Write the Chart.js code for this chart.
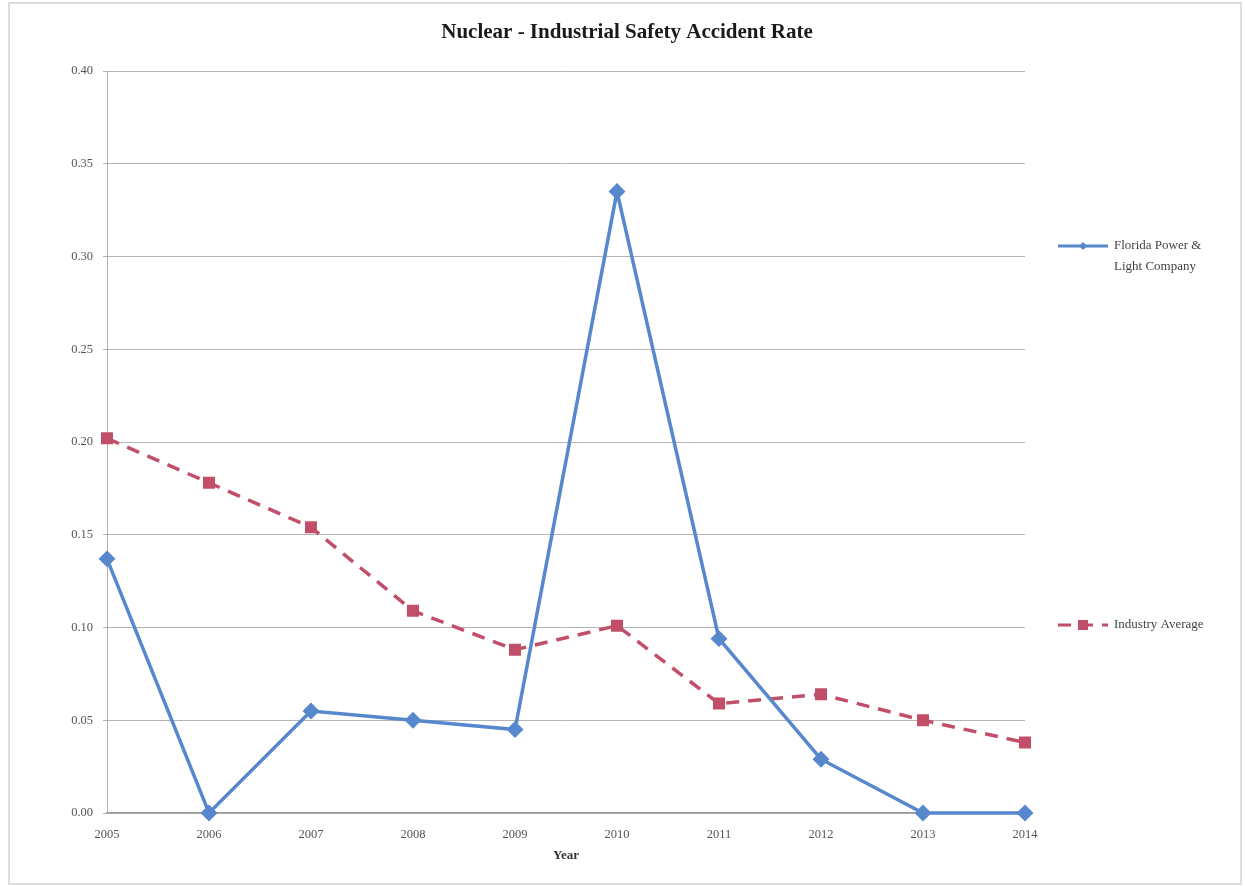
<!DOCTYPE html>
<html>
<head>
<meta charset="utf-8">
<script src="https://cdn.jsdelivr.net/npm/chart.js@4.4.1/dist/chart.umd.min.js"></script>
<style>
  html, body { margin: 0; padding: 0; background: #ffffff; }
  canvas { display: block; }
</style>
</head>
<body>
<canvas id="chart" width="1245" height="886"></canvas>
<script>
// Accident rate per year
const years = ['2005','2006','2007','2008','2009','2010','2011','2012','2013','2014'];
const fplRates = [0.137, 0.000, 0.055, 0.050, 0.045, 0.335, 0.094, 0.029, 0.000, 0.000];
const industryRates = [0.202, 0.178, 0.154, 0.109, 0.088, 0.101, 0.059, 0.064, 0.050, 0.038];
const yTicks = [0.00, 0.05, 0.10, 0.15, 0.20, 0.25, 0.30, 0.35, 0.40];

const seriesNames = [['Florida Power &', 'Light Company'], ['Industry Average']];
const titleText = 'Nuclear - Industrial Safety Accident Rate';
const xTitleText = 'Year';

const SERIF = '"Liberation Serif", "DejaVu Serif", serif';
const BLUE = '#5787cc';
const RED = '#c24f69';

// Title, axis title, side legend and frame
const decorations = {
  id: 'decorations',
  afterDraw(chart) {
    const ctx = chart.ctx;
    const area = chart.chartArea;
    ctx.save();

    // outer frame
    ctx.strokeStyle = '#d4d4d4';
    ctx.lineWidth = 1.5;
    ctx.strokeRect(9, 3, 1232, 881);

    // title, centred on the full frame
    ctx.fillStyle = '#1a1a1a';
    ctx.font = 'bold 21px ' + SERIF;
    ctx.textAlign = 'center';
    ctx.textBaseline = 'middle';
    ctx.fillText(titleText, 627, 33);

    // x axis title
    ctx.font = 'bold 13px ' + SERIF;
    ctx.fillStyle = '#333333';
    ctx.fillText(xTitleText, (area.left + area.right) / 2, 856);

    // legend entries
    const ds = chart.data.datasets;
    const entryY = [246, 625];
    ctx.font = '13px ' + SERIF;
    ctx.textAlign = 'left';
    ds.forEach((d, i) => {
      const y = entryY[i];
      const x0 = 1058, x1 = 1108, xm = 1083;
      ctx.strokeStyle = d.borderColor;
      ctx.lineWidth = 3;
      ctx.setLineDash(d.borderDash || []);
      ctx.beginPath();
      ctx.moveTo(x0, y);
      ctx.lineTo(x1, y);
      ctx.stroke();
      ctx.setLineDash([]);
      ctx.fillStyle = d.pointBackgroundColor;
      if (d.pointStyle === 'rectRot') {
        ctx.beginPath();
        ctx.moveTo(xm, y - 4); ctx.lineTo(xm + 4, y); ctx.lineTo(xm, y + 4); ctx.lineTo(xm - 4, y);
        ctx.closePath();
        ctx.fill();
      } else {
        ctx.fillRect(xm - 5, y - 5, 10, 10);
      }
      ctx.fillStyle = '#444444';
      seriesNames[i].forEach((line, k) => {
        ctx.fillText(line, 1114, y + k * 21);
      });
    });
    ctx.restore();
  }
};

new Chart(document.getElementById('chart'), {
  type: 'line',
  data: {
    labels: years,
    datasets: [
      {
        label: 'Florida Power & Light Company',
        data: fplRates,
        borderColor: BLUE,
        backgroundColor: BLUE,
        pointBackgroundColor: BLUE,
        pointBorderColor: BLUE,
        borderWidth: 3.5,
        pointStyle: 'rectRot',
        pointRadius: 6,
        tension: 0,
        fill: false,
        clip: false
      },
      {
        label: 'Industry Average',
        data: industryRates,
        borderColor: RED,
        backgroundColor: RED,
        pointBackgroundColor: RED,
        pointBorderColor: RED,
        borderWidth: 3.5,
        borderDash: [13, 9],
        pointStyle: 'rect',
        pointRadius: 6,
        tension: 0,
        fill: false,
        clip: false
      }
    ]
  },
  options: {
    responsive: false,
    animation: false,
    layout: { padding: { left: 0, right: 220, top: 71, bottom: 0 } },
    plugins: {
      legend: { display: false },
      title: { display: false },
      tooltip: { enabled: false }
    },
    scales: {
      x: {
        offset: false,
        grid: { display: false },
        border: { display: true, color: '#9a9a9a', width: 1.5 },
        ticks: {
          color: '#555555',
          font: { family: SERIF, size: 12.5 },
          padding: 6,
          maxRotation: 0,
          autoSkip: false
        },
        afterFit(scale) { scale.height = 886 - 813; }
      },
      y: {
        min: 0,
        max: 0.4,
        afterBuildTicks(scale) {
          scale.ticks = yTicks.map(v => ({ value: v }));
        },
        grid: {
          color: '#b4b4b4',
          lineWidth: 1,
          drawTicks: true,
          tickLength: 4
        },
        border: { display: true, color: '#b0b0b0', width: 1 },
        ticks: {
          color: '#555555',
          font: { family: SERIF, size: 12.5 },
          padding: 10,
          callback: v => Number(v).toFixed(2)
        },
        afterFit(scale) { scale.width = 107; }
      }
    }
  },
  plugins: [decorations]
});
</script>
</body>
</html>
